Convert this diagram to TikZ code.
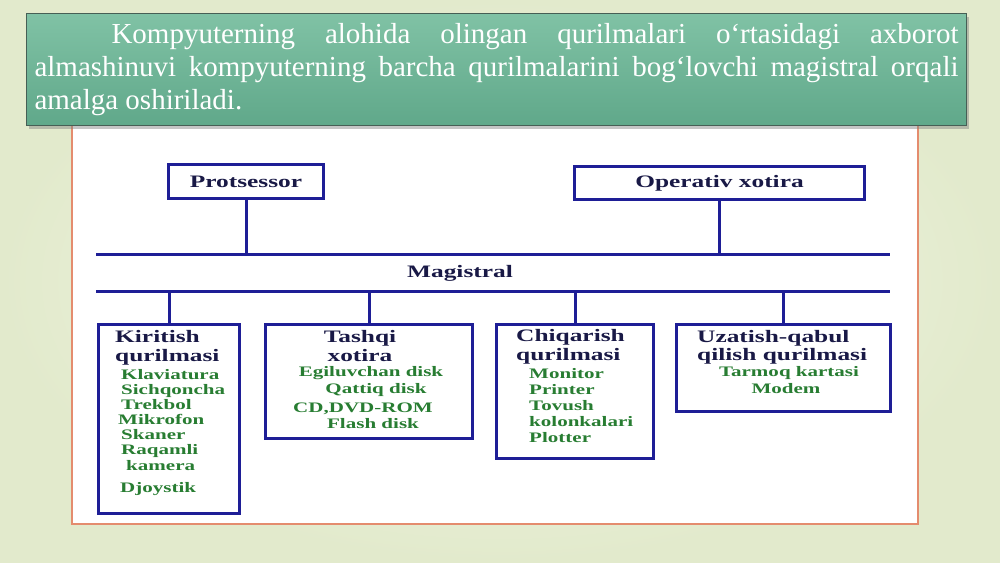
\documentclass[tikz,border=0pt]{standalone}
\usepackage{fontspec}
\setmainfont{Liberation Serif}
\newfontfamily\diagfont[FakeStretch=1.45]{Liberation Serif}
\usetikzlibrary{shadows}
\definecolor{busblue}{RGB}{30,30,150}
\definecolor{headnavy}{RGB}{25,25,70}
\definecolor{itemgreen}{RGB}{40,125,50}
\definecolor{bannertop}{RGB}{128,194,165}
\definecolor{bannerbot}{RGB}{96,168,138}
\definecolor{paneledge}{RGB}{228,140,110}
\definecolor{bginner}{RGB}{244,247,234}
\definecolor{bgouter}{RGB}{226,234,204}
\tikzset{
    banner/.style={draw={rgb,255:red,70;green,95;blue,85}, line width=1pt, top color=bannertop, bottom color=bannerbot,
        drop shadow={opacity=0.45, shadow xshift=2pt, shadow yshift=-3pt}},
    panel/.style={draw=paneledge, line width=1.5pt, fill=white},
    devbox/.style={draw=busblue, line width=3pt, fill=white, inner sep=0pt},
    bus/.style={draw=busblue, line width=3pt},
    head/.style={font=\diagfont\bfseries\fontsize{17.5}{20}\selectfont, text=headnavy, inner sep=0pt},
    item/.style={font=\diagfont\bfseries\fontsize{14.5}{16}\selectfont, text=itemgreen, inner sep=0pt}
}

\begin{document}
\begin{tikzpicture}[x=1pt, y=-1pt]
            % background
            \shade[inner color=bginner, outer color=bgouter] (0,0) rectangle (1000,562);
            \useasboundingbox (0,0) rectangle (1000,562);
            \draw[panel] (72,125) rectangle (918,524);
            % banner
            \node[banner, anchor=north west, minimum width=940pt, minimum height=112pt, inner xsep=8pt, inner ysep=0pt,
                text width=924pt, align=justify, text=white, font=\fontsize{29}{33}\selectfont] (banner) at (26,13)
                {\hspace*{77pt}Kompyuterning alohida olingan qurilmalari o‘rtasidagi axborot\linebreak
                 almashinuvi kompyuterning barcha qurilmalarini bog‘lovchi magistral orqali\linebreak
                 amalga oshiriladi.};
            % upper boxes
            \node[devbox, head, anchor=north west, minimum width=155pt, minimum height=34pt] (protsessor) at (167,163) {Protsessor};
            \node[devbox, head, anchor=north west, minimum width=290pt, minimum height=33pt] (operativ) at (573,165) {Operativ xotira};
            % bus
            \coordinate (busAw) at (96,254);
            \coordinate (busAe) at (890,254);
            \coordinate (busBw) at (96,291);
            \coordinate (busBe) at (890,291);
            \draw[bus] (busAw) -- (busAe);
            \draw[bus] (busBw) -- (busBe);
            \node[head] (magistral) at (460,273) {Magistral};
            \draw[bus] (protsessor.south) -- (protsessor.south |- busAw);
            \draw[bus] (operativ.south) -- (operativ.south |- busAw);
            % lower boxes
            \node[devbox, anchor=north west, minimum width=141pt, minimum height=189pt] (kiritish) at (97,323) {};
            \node[devbox, anchor=north west, minimum width=207pt, minimum height=114pt] (tashqi) at (264,323) {};
            \node[devbox, anchor=north west, minimum width=157pt, minimum height=134pt] (chiqarish) at (495,323) {};
            \node[devbox, anchor=north west, minimum width=214pt, minimum height=87pt] (uzatish) at (675,323) {};
            \foreach \b in {kiritish,tashqi,chiqarish,uzatish}
                \draw[bus] (\b.north |- busBw) -- (\b.north);
            % box texts
            \foreach \t/\x/\y [count=\i] in {Kiritish/115/342, qurilmasi/115/361, Chiqarish/516/341, qurilmasi/516/360,
                    Uzatish-qabul/697/342, qilish qurilmasi/697/360}
                \node[head, anchor=base west] (hw\i) at (\x,\y) {\t};
            \foreach \t/\y [count=\i] in {Tashqi/342, xotira/361}
                \node[head, anchor=base] (hc\i) at (360,\y) {\t};
            \foreach \t/\x/\y [count=\i] in {Klaviatura/121/379, Sichqoncha/121/394, Trekbol/121/409, Mikrofon/118/424,
                    Skaner/121/439, Raqamli/121/454, kamera/126/470, Djoystik/120/492,
                    Monitor/529/378, Printer/529/394, Tovush/529/410, kolonkalari/529/426, Plotter/529/442}
                \node[item, anchor=base west] (iw\i) at (\x,\y) {\t};
            \foreach \t/\x/\y [count=\i] in {Egiluvchan disk/371/376, Qattiq disk/376/393, {CD,DVD-ROM}/363/412,
                    Flash disk/373/428, Tarmoq kartasi/789/376, Modem/786/393}
                \node[item, anchor=base] (ic\i) at (\x,\y) {\t};
\end{tikzpicture}
\end{document}
